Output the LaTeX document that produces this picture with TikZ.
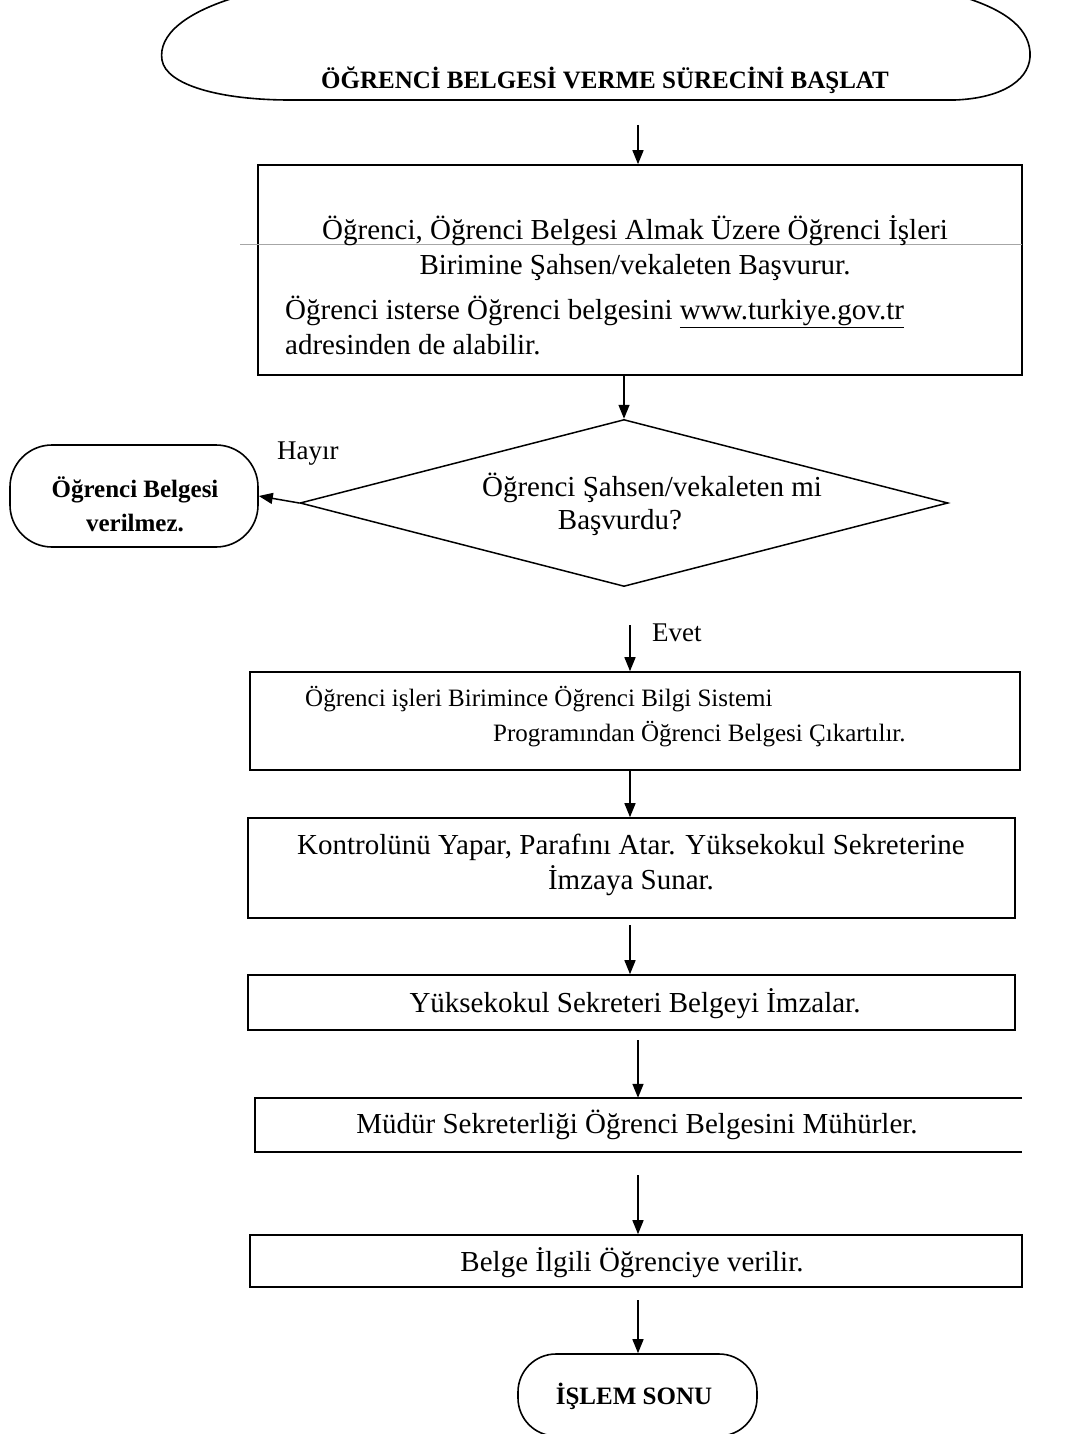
\documentclass[tikz,border=0pt]{standalone}
\usepackage{fontspec}
\setmainfont{Liberation Serif}
\usetikzlibrary{shapes.geometric,arrows.meta}
\begin{document}
\begin{tikzpicture}[x=1pt,y=-1pt,
  procbox/.style={draw, line width=1.6pt, inner sep=0pt, rectangle},
  txt/.style={font=\fontsize{29}{35}\selectfont, inner sep=0pt},
  smalltxt/.style={font=\fontsize{25}{35}\selectfont, inner sep=0pt},
  boldtxt/.style={font=\fontsize{25}{34}\selectfont\bfseries, inner sep=0pt},
  lbl/.style={font=\fontsize{27}{32}\selectfont, inner sep=0pt},
  arr/.style={-{Triangle[length=14pt,width=11pt]}, line width=1.5pt},
  term/.style={draw, line width=1.6pt, rectangle, rounded corners=42pt, inner sep=0pt}]
\useasboundingbox (0,0) rectangle (1082,1434);
\clip (0,0) rectangle (1082,1434);
\fill[white] (0,0) rectangle (1082,1434);

% start terminal
\draw[line width=1.6pt] (240,-4) .. controls (185,12) and (158,35) .. (162,60)
   .. controls (166,85) and (220,100) .. (290,100) -- (955,100)
   .. controls (1005,98) and (1032,78) .. (1030,52)
   .. controls (1028,25) and (1000,8) .. (960,-4);
\node[boldtxt, anchor=base] (start) at (605,89) {ÖĞRENCİ BELGESİ VERME SÜRECİNİ BAŞLAT};
\coordinate (s1) at (638,125);

% box 1
\node[procbox, minimum width=764pt, minimum height=210pt] (b1) at (640,270) {};
\draw[gray!70, line width=0.8pt] (240,244) -- (1022,244);
\node[txt, anchor=base, align=center] (b1t) at (635,274) {Öğrenci, Öğrenci Belgesi Almak Üzere Öğrenci İşleri\\Birimine Şahsen/vekaleten Başvurur.};
\node[txt, anchor=north west, align=left] (b1u) at (285,296) {Öğrenci isterse Öğrenci belgesini \underline{www.turkiye.gov.tr}\\adresinden de alabilir.};

% decision
\node[draw, diamond, line width=1.5pt, inner sep=0pt, minimum width=648pt, minimum height=167pt] (q) at (624,503) {};
\node[txt, anchor=base] (qt1) at (652,496) {Öğrenci Şahsen/vekaleten mi};
\node[txt, anchor=base] (qt2) at (620,529) {Başvurdu?};

% left terminal
\node[term, minimum width=248pt, minimum height=102pt] (no) at (134,496) {};
\node[boldtxt, anchor=base, align=center] (not) at (135,531) {Öğrenci Belgesi\\verilmez.};
\node[lbl, anchor=base west] (hayir) at (277,459) {Hayır};

% evet
\coordinate (s4) at (630,625);
\node[lbl, anchor=base west] (evet) at (652,641) {Evet};

% box 2
\node[procbox, minimum width=770pt, minimum height=98pt] (b2) at (635,721) {};
\node[smalltxt, anchor=base west] (b2t1) at (305,706) {Öğrenci işleri Birimince Öğrenci Bilgi Sistemi};
\node[smalltxt, anchor=base west] (b2t2) at (493,741) {Programından Öğrenci Belgesi Çıkartılır.};

% box 3
\node[procbox, minimum width=767pt, minimum height=100pt] (b3) at (631.5,868) {};
\node[txt, anchor=base, align=center] (b3t) at (631,889) {Kontrolünü Yapar, Parafını Atar. Yüksekokul Sekreterine\\İmzaya Sunar.};
\coordinate (s6) at (630,925);

% box 4
\node[procbox, minimum width=767pt, minimum height=55pt] (b4) at (631.5,1002.5) {};
\node[txt, anchor=base] (b4t) at (635,1012) {Yüksekokul Sekreteri Belgeyi İmzalar.};
\coordinate (s7) at (638,1040);

% box 5 (open right side)
\node[minimum width=767pt, minimum height=54pt, inner sep=0pt] (b5) at (638.5,1125) {};
\draw[line width=1.6pt] (b5.north east) -- (b5.north west) -- (b5.south west) -- (b5.south east);
\node[txt, anchor=base] (b5t) at (637,1133) {Müdür Sekreterliği Öğrenci Belgesini Mühürler.};
\coordinate (s8) at (638,1175);

% box 6
\node[procbox, minimum width=772pt, minimum height=52pt] (b6) at (636,1261) {};
\node[txt, anchor=base] (b6t) at (632,1271) {Belge İlgili Öğrenciye verilir.};
\coordinate (s9) at (638,1300);

% end terminal
\node[term, minimum width=239pt, minimum height=82pt, rounded corners=38pt] (end) at (637.5,1395) {};
\node[boldtxt, anchor=base] (endt) at (634,1404) {İŞLEM SONU};

% connectors
\draw[arr] (s1) -- (s1 |- b1.north);
\draw[arr] (b1.south -| q.north) -- (q.north);
\draw[arr] (q.west) -- (no.east);
\draw[arr] (s4) -- (s4 |- b2.north);
\draw[arr] (b2.south -| s4) -- (s4 |- b3.north);
\draw[arr] (s6) -- (s6 |- b4.north);
\draw[arr] (s7) -- (s7 |- b5.north);
\draw[arr] (s8) -- (s8 |- b6.north);
\draw[arr] (s9) -- (s9 |- end.north);
\end{tikzpicture}
\end{document}
